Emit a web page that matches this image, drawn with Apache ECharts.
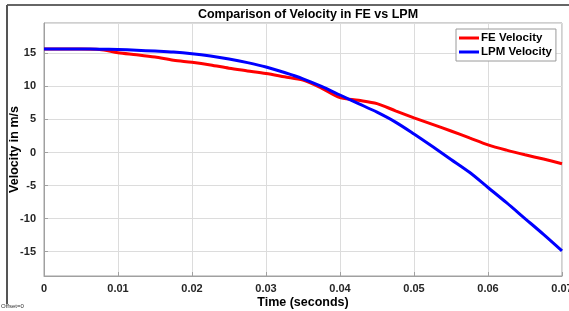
<!DOCTYPE html>
<html>
<head>
<meta charset="utf-8">
<script src="https://cdn.jsdelivr.net/npm/echarts@6/dist/echarts.min.js"></script>
<style>
  html, body { margin: 0; padding: 0; background: #fff; }
  #chart { width: 569px; height: 311px; }
</style>
</head>
<body>
<div id="chart"></div>
<script>
var myChart = echarts.init(document.getElementById('chart'));

// time (s)
var timeVals = [0, 0.0025, 0.005, 0.0075, 0.01, 0.0125, 0.015, 0.0175, 0.02, 0.0225,
                0.025, 0.0275, 0.03, 0.0325, 0.035, 0.0375, 0.04, 0.0425, 0.045, 0.0475,
                0.05, 0.0525, 0.055, 0.0575, 0.06, 0.0625, 0.065, 0.0675, 0.07];
// FE velocity (m/s)
var feVel = [15.65, 15.65, 15.65, 15.6, 15.1, 14.8, 14.45, 13.95, 13.65, 13.25,
             12.75, 12.35, 11.95, 11.45, 10.95, 9.75, 8.3, 7.9, 7.4, 6.3,
             5.25, 4.25, 3.25, 2.2, 1.15, 0.35, -0.35, -1.0, -1.7];
// LPM velocity (m/s)
var lpmVel = [15.65, 15.65, 15.65, 15.64, 15.58, 15.48, 15.35, 15.2, 14.95, 14.6,
              14.15, 13.6, 12.95, 12.1, 11.15, 10.0, 8.7, 7.4, 6.1, 4.6,
              2.8, 0.9, -1.05, -3.0, -5.3, -7.6, -10.0, -12.4, -14.9];

var seriesNames = ['FE Velocity', 'LPM Velocity'];

function pairs(ys) {
    return timeVals.map(function (t, i) { return [t, ys[i]]; });
}

var font = 'Arial, "Liberation Sans", Helvetica, sans-serif';
var labelColor = '#262626';

option = {
    backgroundColor: '#fff',
    animation: false,
    textStyle: { fontFamily: font },
    title: {
        text: 'Comparison of Velocity in FE vs LPM',
        left: 303,
        textAlign: 'center',
        top: 3,
        textStyle: { fontSize: 12.5, fontWeight: 'bold', color: '#000', fontFamily: font }
    },
    legend: {
        data: seriesNames,
        orient: 'vertical',
        left: 456,
        top: 29,
        padding: [3, 4, 3, 3],
        itemGap: 2,
        itemWidth: 20,
        itemHeight: 3,
        icon: 'rect',
        backgroundColor: '#fff',
        borderColor: '#9a9a9a',
        borderWidth: 1,
        textStyle: { fontSize: 11.5, fontWeight: 'bold', color: '#000', padding: [0, 0, 0, -3] }
    },
    grid: {
        left: 44,
        right: 7,
        top: 23,
        bottom: 35,
        outerBoundsMode: 'none',
        containLabel: false,
        show: true,
        borderColor: '#a0a0a0',
        borderWidth: 1
    },
    xAxis: {
        type: 'value',
        min: 0,
        max: 0.07,
        interval: 0.01,
        name: 'Time (seconds)',
        nameLocation: 'middle',
        nameGap: 20,
        nameMoveOverlap: false,
        nameTextStyle: { fontSize: 12.5, fontWeight: 'bold', color: '#000' },
        axisLine: { onZero: false, lineStyle: { color: '#a0a0a0' } },
        axisTick: { inside: true, length: 4, lineStyle: { color: '#a0a0a0' } },
        splitLine: { lineStyle: { color: '#dcdcdc' } },
        axisLabel: {
            fontSize: 11,
            fontWeight: 'bold',
            color: labelColor,
            margin: 7,
            formatter: function (v) { return v === 0 ? '0' : String(Math.round(v * 100) / 100); }
        }
    },
    yAxis: {
        type: 'value',
        min: -18.7,
        max: 19.6,
        splitNumber: 8,
        minInterval: 5,
        maxInterval: 5,
        name: 'Velocity in m/s',
        nameLocation: 'middle',
        nameGap: 23,
        nameMoveOverlap: false,
        nameTextStyle: { fontSize: 12.5, fontWeight: 'bold', color: '#000' },
        axisLine: { show: true, onZero: false, lineStyle: { color: '#a0a0a0' } },
        axisTick: { show: true, inside: true, length: 4, lineStyle: { color: '#a0a0a0' } },
        splitLine: { lineStyle: { color: '#dcdcdc' } },
        axisLabel: {
            fontSize: 11,
            fontWeight: 'bold',
            color: labelColor,
            margin: 8,
            showMinLabel: false,
            showMaxLabel: false,
            formatter: function (v) { return (Math.abs(v % 5) < 1e-6) ? String(v) : ''; }
        }
    },
    graphic: [
        { type: 'line', shape: { x1: 7, y1: 5, x2: 569, y2: 5 }, style: { stroke: '#333', lineWidth: 1.5 } },
        { type: 'line', shape: { x1: 7, y1: 5, x2: 7, y2: 304 }, style: { stroke: '#555', lineWidth: 2 } },
        { type: 'text', left: 1, top: 303, style: { text: 'Offset=0', fontSize: 6, fill: '#333', fontFamily: font } }
    ],
    series: [
        {
            name: seriesNames[0],
            type: 'line',
            data: pairs(feVel),
            showSymbol: false,
            smooth: 0.3,
            itemStyle: { color: '#ff0000' },
            lineStyle: { color: '#ff0000', width: 3 },
            z: 3
        },
        {
            name: seriesNames[1],
            type: 'line',
            data: pairs(lpmVel),
            showSymbol: false,
            smooth: 0.3,
            itemStyle: { color: '#0000ff' },
            lineStyle: { color: '#0000ff', width: 3 },
            z: 4
        }
    ]
};
myChart.setOption(option);
</script>
</body>
</html>
